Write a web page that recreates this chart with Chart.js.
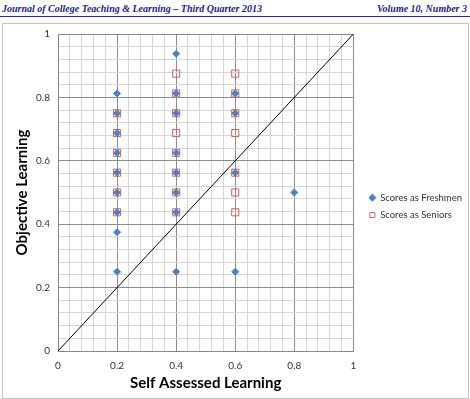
<!DOCTYPE html>
<html>
<head>
<meta charset="utf-8">
<script src="https://cdn.jsdelivr.net/npm/chart.js@4.4.1/dist/chart.umd.min.js"></script>
<style>
  html, body { margin: 0; padding: 0; background: #fff; width: 470px; height: 399px; overflow: hidden; }
  #hdr { position: absolute; left: 0; top: 0; width: 470px; height: 16px; border-bottom: 1px solid #2a2a96;
         font: bold italic 10px "Liberation Serif", serif; color: #1c1c80; }
  #hdr .l { position: absolute; left: 2px; top: 3px; }
  #hdr .r { position: absolute; right: 3px; top: 3px; }
  #frame { position: absolute; left: 2px; top: 23px; width: 467px; height: 376px; box-sizing: border-box; border: 1px solid #c4c4c4; }
  canvas { display: block; }
</style>
</head>
<body>
<div id="hdr"><span class="l">Journal of College Teaching &amp; Learning – Third Quarter 2013</span><span class="r">Volume 10, Number 3</span></div>
<div id="frame"><canvas id="chart" width="465" height="374"></canvas></div>
<script>
// axis ticks
const majorTicks = [0, 0.2, 0.4, 0.6, 0.8, 1];
const minorStep = 0.04;

// series
const freshmenX = [0.2, 0.2, 0.2, 0.2, 0.2, 0.2, 0.2, 0.2, 0.2,
                   0.4, 0.4, 0.4, 0.4, 0.4, 0.4, 0.4, 0.4,
                   0.6, 0.6, 0.6, 0.6,
                   0.8];
const freshmenY = [0.8125, 0.75, 0.6875, 0.625, 0.5625, 0.5, 0.4375, 0.375, 0.25,
                   0.9375, 0.8125, 0.75, 0.625, 0.5625, 0.5, 0.4375, 0.25,
                   0.8125, 0.75, 0.5625, 0.25,
                   0.5];
const seniorsX = [0.2, 0.2, 0.2, 0.2, 0.2, 0.2,
                  0.4, 0.4, 0.4, 0.4, 0.4, 0.4, 0.4, 0.4,
                  0.6, 0.6, 0.6, 0.6, 0.6, 0.6, 0.6];
const seniorsY = [0.75, 0.6875, 0.625, 0.5625, 0.5, 0.4375,
                  0.875, 0.8125, 0.75, 0.6875, 0.625, 0.5625, 0.5, 0.4375,
                  0.875, 0.8125, 0.75, 0.6875, 0.5625, 0.5, 0.4375];
const diagX = [0, 1];
const diagY = [0, 1];

const toPoints = (xs, ys) => xs.map((x, i) => ({ x: x, y: ys[i] }));
const majorOf = v => majorTicks.find(m => Math.abs(m - v) < 1e-6);
const gridColor = c => (c.tick && majorOf(c.tick.value) !== undefined) ? '#8c8c8c' : '#d6d6d6';
const tickLabel = v => { const m = majorOf(v); return m === undefined ? '' : String(m); };

const tickFont = { family: 'Lato', size: 10 };
const titleFont = { family: 'Lato', size: 15, weight: 'bold' };

const ctx = document.getElementById('chart').getContext('2d');

new Chart(ctx, {
  type: 'scatter',
  data: {
    datasets: [
      {
        label: 'Scores as Freshmen',
        data: toPoints(freshmenX, freshmenY),
        pointStyle: 'rectRot',
        pointRadius: 3.5,
        pointHoverRadius: 3.5,
        backgroundColor: '#4f81bd',
        borderColor: '#4f81bd',
        borderWidth: 1
      },
      {
        label: 'Scores as Seniors',
        data: toPoints(seniorsX, seniorsY),
        pointStyle: 'rect',
        pointRadius: 5,
        pointHoverRadius: 5,
        backgroundColor: 'rgba(255,255,255,0)',
        borderColor: '#c9605d',
        borderWidth: 1
      },
      {
        type: 'line',
        label: 'diagonal',
        data: toPoints(diagX, diagY),
        borderColor: '#000',
        borderWidth: 1,
        pointRadius: 0,
        fill: false
      }
    ]
  },
  options: {
    responsive: false,
    animation: false,
    layout: { padding: { top: 10, right: -4, left: 0, bottom: 0 } },
    plugins: {
      tooltip: { enabled: false },
      legend: {
        position: 'right',
        align: 'start',
        maxWidth: 140,
        title: { display: true, text: '', padding: { top: 136.5, bottom: 0 } },
        labels: {
          usePointStyle: true,
          boxWidth: 6,
          boxHeight: 5,
          padding: 8,
          color: '#333',
          font: { family: 'Lato', size: 9.5 },
          filter: item => item.datasetIndex < 2
        }
      }
    },
    scales: {
      x: {
        type: 'linear',
        min: 0,
        max: 1,
        afterFit: s => { s.height = 47; },
        ticks: { stepSize: minorStep, autoSkip: false, maxRotation: 0, padding: 1, color: '#333', font: tickFont, callback: tickLabel },
        grid: { color: gridColor, drawTicks: true, tickLength: 8, tickColor: 'rgba(0,0,0,0)' },
        border: { color: '#868686' },
        title: { display: true, text: 'Self Assessed Learning', color: '#000', font: titleFont, padding: { top: 0, bottom: 6 } }
      },
      y: {
        type: 'linear',
        min: 0,
        max: 1,
        afterFit: s => { s.width = 55; },
        ticks: { stepSize: minorStep, autoSkip: false, padding: 0, color: '#333', font: tickFont, callback: tickLabel },
        grid: { color: gridColor, drawTicks: true, tickLength: 8, tickColor: 'rgba(0,0,0,0)' },
        border: { color: '#868686' },
        title: { display: true, text: 'Objective Learning', color: '#000', font: titleFont, padding: { top: 10, bottom: 0 } }
      },
      gap: {
        type: 'linear',
        position: 'right',
        display: true,
        afterFit: s => { s.width = 8; },
        ticks: { display: false },
        grid: { display: false },
        border: { display: false }
      }
    }
  }
});
</script>
</body>
</html>
